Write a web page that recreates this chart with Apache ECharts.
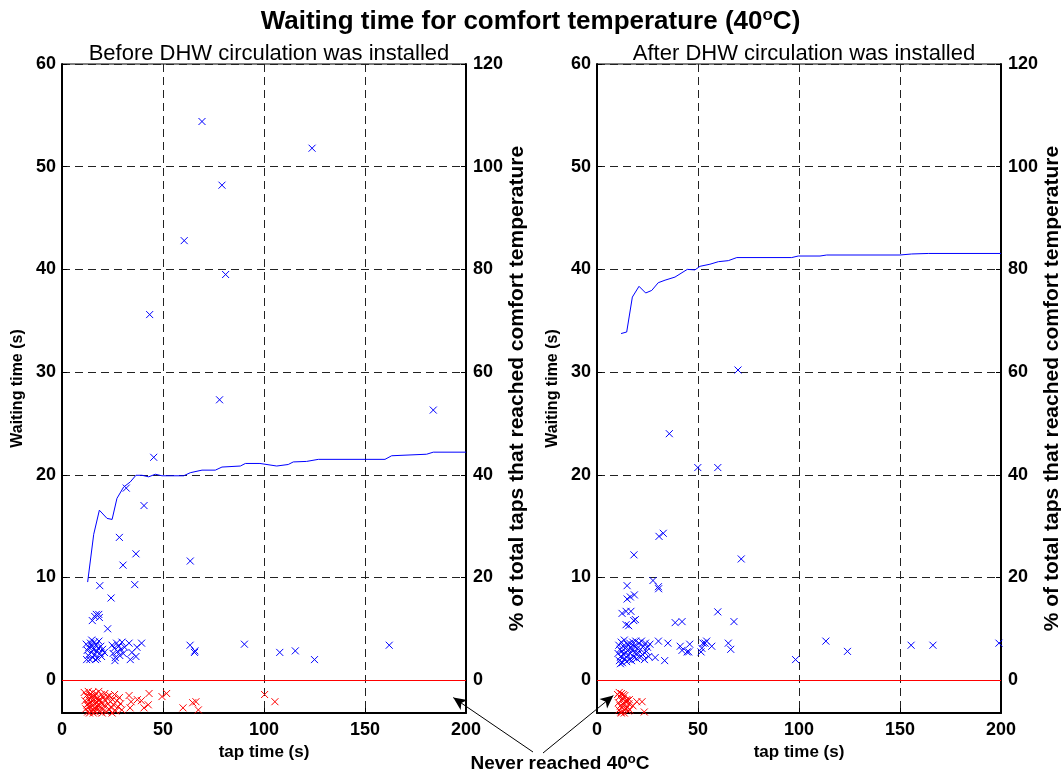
<!DOCTYPE html>
<html lang="en">
<head>
  <meta charset="UTF-8">
  <title>Waiting time for comfort temperature</title>
  <script src="https://cdn.jsdelivr.net/npm/echarts@6.0.0/dist/echarts.min.js"></script>
  <style>
    html, body { margin: 0; padding: 0; background: #fff; }
  </style>
</head>
<body>
<div id="main" style="width: 1061px;height:773px;"></div>
<script type="text/javascript">
    // tick labels
    var waitTicks = [0, 10, 20, 30, 40, 50, 60];
    var pctTicks = [0, 20, 40, 60, 80, 100, 120];

    // before circulation: taps that reached 40C, [tap time, waiting time]
    var beforeReached = [
        [69.3, 54.4], [123.8, 51.8], [79.2, 48.2], [60.5, 42.8], [81, 39.5], [43.4, 35.6],
        [78, 27.3], [183.8, 26.3], [45.4, 21.7], [31.8, 18.7], [40.6, 17.0], [28.4, 13.9],
        [36.6, 12.3], [30.2, 11.2], [63.5, 11.6], [18.7, 9.2], [36, 9.3], [24.3, 8.0],
        [17, 6.4], [16.2, 6.2], [18.2, 6.4], [15, 5.8], [18.5, 6.1], [22.6, 5.0],
        [12.0, 3.5], [12.5, 2.9], [13.0, 2.4], [13.3, 3.2], [13.8, 2.0], [14.1, 3.6], [14.5, 2.7],
        [14.9, 3.3], [15.2, 2.2], [15.6, 3.0], [16.0, 3.7], [16.3, 2.5], [16.8, 3.4], [17.1, 2.8],
        [17.5, 2.1], [17.9, 3.1], [18.3, 3.8], [18.8, 2.6], [19.2, 3.3], [19.6, 2.3], [20.1, 3.0],
        [12.2, 2.0], [14.7, 3.9], [16.6, 2.0], [21.0, 2.7],
        [24.8, 3.4], [25.3, 2.6], [25.9, 3.1], [26.2, 1.9], [26.4, 2.2], [27.0, 3.6], [27.5, 2.8],
        [28.1, 3.3], [28.6, 2.4], [29.2, 3.0], [29.7, 3.7], [30.3, 2.6], [31.0, 3.2], [33.2, 3.6],
        [33.8, 2.0], [34.6, 2.7], [36.6, 2.3], [37.1, 3.2], [39.4, 3.6],
        [63.4, 3.4], [65.8, 2.85], [65.6, 2.7], [90.3, 3.5], [107.8, 2.7], [115.5, 2.85],
        [125, 2.0], [162, 3.4]
    ];
    // before circulation: taps that never reached 40C (drawn below zero)
    var beforeNever = [
        [11.0, -1.2], [11.4, -2.0], [11.8, -2.8], [12.1, -1.5], [12.4, -2.4], [12.7, -3.1], [13.0, -1.1],
        [13.2, -1.9], [13.5, -2.6], [13.8, -1.4], [14.0, -2.2], [14.3, -3.0], [14.6, -1.7], [14.9, -2.5],
        [15.1, -1.2], [15.4, -2.0], [15.7, -2.9], [16.0, -1.6], [16.2, -2.3], [16.5, -3.1], [16.8, -1.3],
        [17.1, -2.1], [17.4, -2.7], [17.6, -1.8], [17.9, -2.4], [18.2, -1.1], [18.5, -3.0], [18.8, -1.9],
        [19.1, -2.6], [19.4, -1.4], [19.7, -2.2], [20.0, -2.9], [20.4, -1.7], [20.8, -2.5], [21.2, -1.3],
        [21.6, -2.0], [22.0, -3.1], [22.4, -1.6], [22.8, -2.3], [23.2, -2.8], [23.6, -1.5], [24.0, -2.1],
        [24.5, -2.7], [25.0, -1.9], [25.5, -2.4], [26.0, -1.4], [26.6, -3.0], [27.2, -2.0], [27.8, -2.6],
        [28.4, -1.7], [29.0, -2.3], [29.6, -2.9], [12.9, -2.3], [14.8, -1.5], [16.4, -2.7], [18.0, -2.0],
        [13.6, -3.2], [15.5, -3.2], [19.9, -3.2], [24.8, -3.2],
        [33.2, -1.5], [34.2, -2.1], [33.7, -2.7], [37.3, -1.9], [39.3, -2.0], [40.6, -2.7], [42.7, -2.4],
        [43.1, -1.3], [49.5, -1.6], [51.8, -1.3], [59.9, -2.7], [64.7, -2.2], [66.3, -2.1], [67.5, -2.9],
        [100.3, -1.4], [105.4, -2.1]
    ];
    // before circulation: % of total taps that reached comfort temperature
    var beforePct = [
        [12.7, 19.1], [15.7, 28.4], [18.5, 33.1], [22.3, 31.5], [24.8, 31.3], [27.2, 35.4], [30.5, 37.6],
        [33.8, 38.6], [36.6, 39.9], [39.6, 39.9], [42.9, 39.6], [46.2, 40.1], [49.5, 39.8], [60.2, 39.8],
        [63.5, 40.4], [69.3, 40.9], [75.9, 40.9], [79.2, 41.5], [88.3, 41.7], [90.8, 42.2], [98, 42.2],
        [106.3, 41.7], [112, 42.0], [114.5, 42.5], [121.1, 42.6], [126.9, 43.0], [159.9, 43.0],
        [163.2, 43.7], [180.5, 44.0], [183.8, 44.4], [200, 44.4]
    ];

    // after circulation
    var afterReached = [
        [69.8, 30.2], [35.8, 24.0], [49.9, 20.7], [59.8, 20.7], [32.8, 14.3], [30.7, 14.0], [18.3, 12.2],
        [71.4, 11.8], [27.7, 9.7], [30.4, 9.1], [30.5, 8.9], [14.9, 9.2], [14.9, 7.9], [16.5, 8.1],
        [18.5, 8.3], [12.4, 6.5], [14.4, 6.7], [16.8, 6.7], [18.2, 5.8], [19.0, 5.9], [14.4, 5.4],
        [15.7, 5.3], [38.7, 5.6], [42.1, 5.7], [59.8, 6.65], [67.8, 5.7],
        [10.4, 2.6], [10.8, 3.4], [11.1, 1.9], [11.4, 3.0], [11.7, 2.3], [12.0, 3.7], [12.3, 2.8],
        [12.6, 1.7], [12.9, 3.3], [13.2, 2.5], [13.5, 3.9], [13.8, 2.1], [14.1, 3.1], [14.4, 2.7],
        [14.7, 1.8], [15.0, 3.5], [15.3, 2.4], [15.6, 3.0], [15.9, 2.0], [16.2, 3.6], [16.5, 2.6],
        [16.8, 3.2], [17.1, 1.9], [17.4, 2.9], [17.7, 3.7], [18.0, 2.3], [18.4, 3.3], [18.8, 2.7],
        [19.2, 3.8], [19.6, 2.1], [20.0, 3.1], [20.4, 2.6], [20.8, 3.6], [21.2, 2.2], [21.6, 3.0],
        [22.0, 3.8], [22.5, 2.5], [23.0, 3.3], [23.5, 2.0], [24.0, 3.6], [24.5, 2.8], [25.0, 3.2],
        [25.6, 2.3], [26.2, 3.5], [11.6, 1.6],
        [30.4, 3.8], [35.1, 3.6], [28.8, 2.2], [33.5, 1.9], [41.2, 3.3], [42.1, 2.9], [45.9, 3.5],
        [45.4, 2.75], [44.6, 2.75], [51.9, 3.1], [52.5, 3.6], [54.3, 3.8], [53.5, 3.6], [56.8, 3.3],
        [51.5, 2.75], [65.0, 3.6], [66.2, 3.0], [98.3, 2.0], [113.3, 3.8], [124, 2.8], [155.5, 3.4],
        [166.3, 3.4], [199, 3.6]
    ];
    var afterNever = [
        [10.2, -1.4], [10.6, -2.2], [10.9, -2.9], [11.2, -1.6], [11.5, -2.5], [11.8, -3.1], [12.1, -1.3],
        [12.3, -2.0], [12.6, -2.7], [12.9, -1.8], [13.2, -2.4], [13.5, -3.2], [13.8, -1.5], [14.1, -2.1],
        [14.4, -2.8], [14.7, -1.9], [15.0, -2.6], [15.4, -3.0], [15.8, -2.3], [16.2, -2.9], [11.0, -1.2],
        [13.0, -1.4], [14.9, -2.0], [12.0, -3.2], [16.0, -1.9],
        [17.8, -2.5], [19.7, -2.1], [22.3, -2.1], [23.4, -3.1]
    ];
    var afterPct = [
        [11.9, 67.5], [14.7, 67.8], [17.5, 74.6], [20.8, 76.7], [24.1, 75.4], [27.1, 75.9], [30.3, 77.4],
        [33.7, 77.9], [38.6, 78.5], [44.7, 80.0], [48.5, 79.9], [51, 80.6], [55.9, 81.0], [60.1, 81.5],
        [65, 81.7], [69.2, 82.3], [96.4, 82.3], [99.6, 82.6], [110.4, 82.6], [113.7, 82.8], [150, 82.8],
        [155.8, 83.0], [164, 83.1], [200, 83.1]
    ];

    // where the "Never reached" arrows point (data coords)
    var arrowTipBefore = [193.7, -1.7];
    var arrowTipAfter = [8.1, -1.5];

    var FONT = "'Liberation Sans', Arial, sans-serif";
    var cross = 'path://M0,0L7,7M7,0L0,7';

    var myChart = echarts.init(document.getElementById('main'), null, {renderer: 'canvas'});

    function xAxisFor(g) {
        return {
            gridIndex: g, type: 'value', min: 0, max: 200, interval: 50,
            name: 'tap time (s)', nameLocation: 'middle', nameGap: 23,
            nameTextStyle: {color: '#000', fontWeight: 'bold', fontSize: 17, fontFamily: FONT},
            axisLine: {onZero: false, lineStyle: {color: '#000', width: 2}},
            axisTick: {inside: true, length: 5, lineStyle: {color: '#000'}},
            axisLabel: {color: '#000', fontWeight: 'bold', fontSize: 18, fontFamily: FONT, margin: 8},
            splitLine: {show: true, lineStyle: {color: '#222', type: [8, 5], width: 1}}
        };
    }
    function waitAxis(g) {
        return {
            gridIndex: g, type: 'value', position: 'left', min: -3.2, max: 60,
            name: 'Waiting time (s)', nameLocation: 'middle', nameGap: 36,
            nameTextStyle: {color: '#000', fontWeight: 'bold', fontSize: 16, fontFamily: FONT},
            axisLine: {show: true, lineStyle: {color: '#000', width: 2}},
            axisTick: {inside: true, length: 5, customValues: waitTicks, lineStyle: {color: '#000'}},
            axisLabel: {color: '#000', fontWeight: 'bold', fontSize: 18, fontFamily: FONT, margin: 6,
                customValues: waitTicks},
            splitLine: {show: true, lineStyle: {color: '#222', type: [8, 5], width: 1}}
        };
    }
    function pctAxis(g) {
        return {
            gridIndex: g, type: 'value', position: 'right', min: -6.4, max: 120,
            name: '% of total taps that reached comfort temperature', nameLocation: 'middle', nameGap: 40,
            nameTextStyle: {color: '#000', fontWeight: 'bold', fontSize: 21, fontFamily: FONT},
            axisLine: {show: true, lineStyle: {color: '#000', width: 2}},
            axisTick: {inside: true, length: 5, customValues: pctTicks, lineStyle: {color: '#000'}},
            axisLabel: {color: '#000', fontWeight: 'bold', fontSize: 18, fontFamily: FONT, margin: 7,
                customValues: pctTicks},
            splitLine: {show: false}
        };
    }
    function crosses(data, color, xi, yi, extra) {
        var s = {
            type: 'scatter', xAxisIndex: xi, yAxisIndex: yi, data: data,
            symbol: cross, symbolSize: 7, clip: false, silent: true,
            itemStyle: {color: 'rgba(0,0,0,0)', borderColor: color, borderWidth: 1, opacity: 1},
            emphasis: {disabled: true}
        };
        for (var k in extra) s[k] = extra[k];
        return s;
    }
    function zeroLine() {
        return {
            silent: true, symbol: 'none', animation: false,
            label: {show: false},
            lineStyle: {color: '#ff0000', type: 'solid', width: 1},
            data: [{yAxis: 0}]
        };
    }
    function arrow(tip, tail) {
        return {
            silent: true, animation: false, symbol: ['arrow', 'none'], symbolSize: [9, 13],
            label: {show: false},
            lineStyle: {color: '#000', type: 'solid', width: 1},
            data: [[{coord: tip}, {x: tail[0], y: tail[1]}]]
        };
    }
    function pctLine(data, xi, yi) {
        return {
            type: 'line', xAxisIndex: xi, yAxisIndex: yi, data: data,
            showSymbol: false, symbol: 'none', silent: true,
            lineStyle: {color: '#0000ff', width: 1}
        };
    }

    var option = {
        animation: false,
        backgroundColor: '#fff',
        title: [{
            text: '{t|Waiting time for comfort temperature (40}{s|o}{t|C)}',
            left: 'center', top: 1,
            textStyle: {
                rich: {
                    t: {fontSize: 26, fontWeight: 'bold', fontFamily: FONT, color: '#000', lineHeight: 32},
                    s: {fontSize: 17, fontWeight: 'bold', fontFamily: FONT, color: '#000', lineHeight: 32,
                        padding: [0, 0, 14, 0]}
                }
            }
        }, {
            text: 'Before DHW circulation was installed', left: 264, textAlign: 'center', top: 38,
            textStyle: {fontSize: 22, fontWeight: 'normal', fontFamily: FONT, color: '#000'}
        }, {
            text: 'After DHW circulation was installed', left: 799, textAlign: 'center', top: 38,
            textStyle: {fontSize: 22, fontWeight: 'normal', fontFamily: FONT, color: '#000'}
        }, {
            text: '{t|Never reached 40}{s|o}{t|C}',
            left: 555, textAlign: 'center', top: 747,
            textStyle: {
                rich: {
                    t: {fontSize: 19, fontWeight: 'bold', fontFamily: FONT, color: '#000', lineHeight: 24},
                    s: {fontSize: 13, fontWeight: 'bold', fontFamily: FONT, color: '#000', lineHeight: 24,
                        padding: [0, 0, 10, 0]}
                }
            }
        }],
        grid: [
            {left: 62, top: 64, width: 404, height: 649, show: true, borderColor: '#000', borderWidth: 1,
                backgroundColor: '#fff', outerBoundsMode: 'none'},
            {left: 597, top: 64, width: 404, height: 649, show: true, borderColor: '#000', borderWidth: 1,
                backgroundColor: '#fff', outerBoundsMode: 'none'}
        ],
        xAxis: [xAxisFor(0), xAxisFor(1)],
        yAxis: [waitAxis(0), pctAxis(0), waitAxis(1), pctAxis(1)],
        series: [
            crosses(beforeReached, '#0000ff', 0, 0, {markLine: zeroLine()}),
            crosses(beforeNever, '#ff0000', 0, 0, {markLine: arrow(arrowTipBefore, [533, 752])}),
            pctLine(beforePct, 0, 1),
            crosses(afterReached, '#0000ff', 1, 2, {markLine: zeroLine()}),
            crosses(afterNever, '#ff0000', 1, 2, {markLine: arrow(arrowTipAfter, [543, 753])}),
            pctLine(afterPct, 1, 3)
        ]
    };

    myChart.setOption(option);
</script>
</body>
</html>
